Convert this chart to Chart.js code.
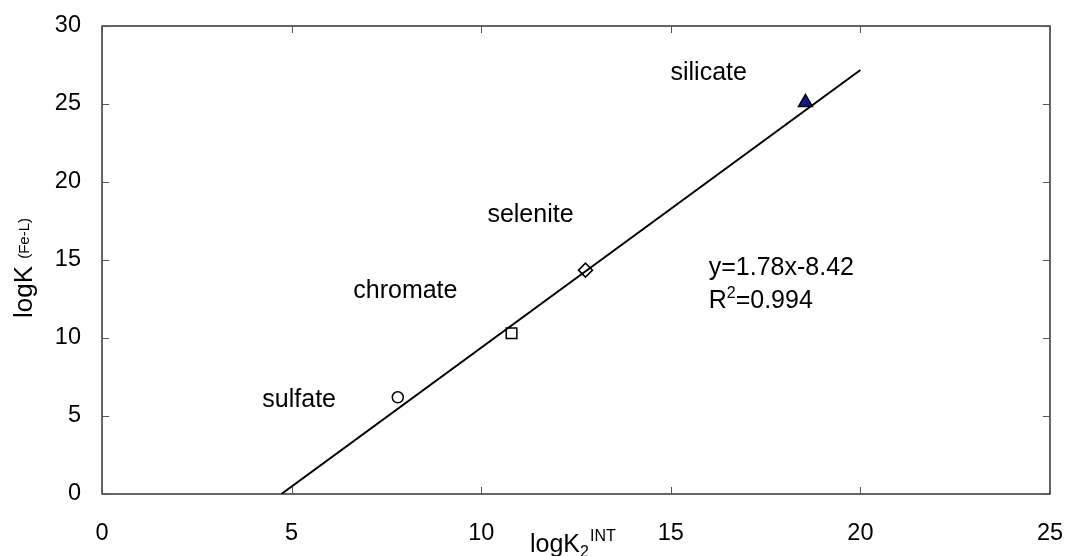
<!DOCTYPE html>
<html>
<head>
<meta charset="utf-8">
<script src="https://cdn.jsdelivr.net/npm/chart.js@4.4.1/dist/chart.umd.min.js"></script>
<style>
  html, body { margin: 0; padding: 0; background: #fff; }
  #wrap { width: 1068px; height: 556px; position: relative; }
</style>
</head>
<body>
<div id="wrap"><canvas id="c"></canvas></div>
<script>
// measured ligand points: [logK2 INT, logK (Fe-L)]
const sulfate  = [{ x: 7.8,   y: 6.2 }];
const chromate = [{ x: 10.8,  y: 10.3 }];
const selenite = [{ x: 12.75, y: 14.35 }];
const silicate = [{ x: 18.55, y: 25.1 }];

// fit y = 1.78x - 8.42, drawn from the x-intercept to x = 20
const fitSlope = 1.78;
const fitIntercept = -8.42;
const fitRange = [-fitIntercept / fitSlope, 20];

const xTicks = [0, 5, 10, 15, 20, 25];
const yTicks = [0, 5, 10, 15, 20, 25, 30];

const labelNames = ["sulfate", "chromate", "selenite", "silicate"];
const labelAt = [[5.2, 6.0], [8.0, 13.0], [11.3, 17.9], [16.0, 27.0]];

const FONT = "'Liberation Sans', Arial, sans-serif";

const fitLine = fitRange.map(x => ({ x: x, y: fitSlope * x + fitIntercept }));

// box frame, inward ticks on all four sides, axis titles and text notes
const decor = {
  id: "decor",
  afterDatasetsDraw(chart) {
    const ctx = chart.ctx;
    const a = chart.chartArea;
    const xs = chart.scales.x, ys = chart.scales.y;
    ctx.save();
    ctx.strokeStyle = "#000";
    ctx.lineWidth = 1.2;
    ctx.strokeRect(a.left, a.top, a.right - a.left, a.bottom - a.top);
    ctx.lineWidth = 1;
    ctx.strokeStyle = "#555";
    ctx.beginPath();
    xTicks.forEach(v => {
      const px = Math.round(xs.getPixelForValue(v)) + 0.5;
      ctx.moveTo(px, a.bottom); ctx.lineTo(px, a.bottom - 7);
      ctx.moveTo(px, a.top); ctx.lineTo(px, a.top + 7);
    });
    yTicks.forEach(v => {
      const py = Math.round(ys.getPixelForValue(v)) + 0.5;
      ctx.moveTo(a.left, py); ctx.lineTo(a.left + 7, py);
      ctx.moveTo(a.right, py); ctx.lineTo(a.right - 7, py);
    });
    ctx.stroke();

    ctx.fillStyle = "#000";
    ctx.textBaseline = "middle";
    ctx.textAlign = "center";
    ctx.font = "25px " + FONT;
    labelNames.forEach((t, i) => {
      ctx.fillText(t, xs.getPixelForValue(labelAt[i][0]), ys.getPixelForValue(labelAt[i][1]));
    });

    // equation and R²
    ctx.textAlign = "left";
    const ex = xs.getPixelForValue(16.0);
    ctx.fillText("y=1.78x-8.42", ex, ys.getPixelForValue(14.5));
    const ry = ys.getPixelForValue(12.35);
    ctx.fillText("R", ex, ry);
    let w = ctx.measureText("R").width;
    ctx.font = "16px " + FONT;
    ctx.fillText("2", ex + w, ry - 8);
    w += ctx.measureText("2").width;
    ctx.font = "25px " + FONT;
    ctx.fillText("=0.994", ex + w, ry);

    // x title: logK2 with INT superscript
    ctx.textBaseline = "alphabetic";
    let tx = 530, ty = 552;
    ctx.fillText("logK", tx, ty);
    tx += ctx.measureText("logK").width;
    ctx.font = "16px " + FONT;
    ctx.fillText("2", tx, ty + 5);
    ctx.fillText("INT", tx + ctx.measureText("2").width + 1, ty - 11);

    // y title rotated: logK (Fe-L)
    ctx.translate(32, 268);
    ctx.rotate(-Math.PI / 2);
    ctx.font = "26px " + FONT;
    const w1 = ctx.measureText("logK ").width;
    ctx.font = "15px " + FONT;
    const w2 = ctx.measureText("(Fe-L)").width;
    const sx = -(w1 + w2) / 2;
    ctx.font = "26px " + FONT;
    ctx.fillText("logK", sx, 0);
    ctx.font = "15px " + FONT;
    ctx.fillText("(Fe-L)", sx + w1, -3);
    ctx.restore();
  }
};

const pointSet = (data, style, radius, fill) => ({
  type: "scatter",
  data: data,
  pointStyle: style,
  pointRadius: radius,
  pointHoverRadius: radius,
  pointBackgroundColor: fill,
  pointBorderColor: "#000",
  pointBorderWidth: 1.5
});

const noPad = s => {
  s.paddingLeft = 0; s.paddingRight = 0;
  s.paddingTop = 0; s.paddingBottom = 0;
};

new Chart(document.getElementById("c"), {
  type: "scatter",
  data: {
    datasets: [
      {
        type: "line",
        data: fitLine,
        borderColor: "#000",
        borderWidth: 2,
        pointRadius: 0,
        fill: false
      },
      pointSet(sulfate, "circle", 5.5, "#fff"),
      pointSet(chromate, "rect", 7.5, "#fff"),
      pointSet(selenite, "rectRot", 7, "#fff"),
      pointSet(silicate, "triangle", 8, "#0a1a8c")
    ]
  },
  options: {
    responsive: true,
    maintainAspectRatio: false,
    animation: false,
    layout: { padding: { left: 0, top: 26, right: 18, bottom: 0 } },
    plugins: { legend: { display: false }, tooltip: { enabled: false } },
    scales: {
      x: {
        type: "linear",
        min: 0, max: 25,
        afterFit: s => { s.height = 62; noPad(s); },
        afterBuildTicks: s => { s.ticks = xTicks.map(v => ({ value: v })); },
        grid: { display: false, drawTicks: false },
        border: { display: false },
        ticks: { padding: 25, color: "#000", font: { family: FONT, size: 23.5 } }
      },
      y: {
        type: "linear",
        min: 0, max: 30,
        afterFit: s => { s.width = 102; noPad(s); },
        afterBuildTicks: s => { s.ticks = yTicks.map(v => ({ value: v })); },
        grid: { display: false, drawTicks: false },
        border: { display: false },
        ticks: { padding: 21, color: "#000", font: { family: FONT, size: 23.5 } }
      }
    }
  },
  plugins: [decor]
});
</script>
</body>
</html>
